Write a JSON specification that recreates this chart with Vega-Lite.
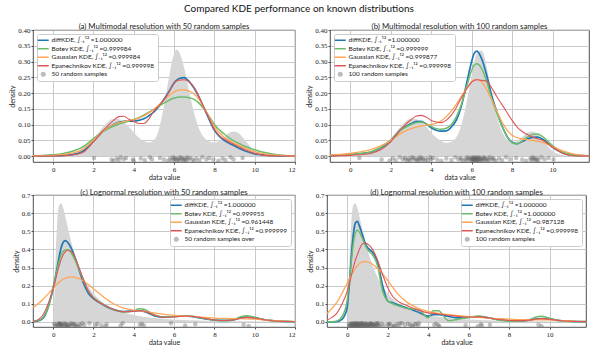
{
"$schema": "https://vega.github.io/schema/vega-lite/v6.json",
"padding": {"left": 8, "top": 3, "right": 0, "bottom": 0},
"title": {"text": "Compared KDE performance on known distributions", "font": "Lato", "fontSize": 10, "fontWeight": "normal", "anchor": "middle", "offset": 9, "color": "#111"},
"config": {
 "view": {"stroke": "#222", "strokeWidth": 0.8},
 "axis": {"grid": true, "gridColor": "#bdbdbd", "gridWidth": 0.8, "domain": false, "tickColor": "#222", "tickSize": 2, "tickWidth": 0.8, "labelFont": "Liberation Serif", "labelFontSize": 7, "labelColor": "#222", "labelPadding": 1, "labelOverlap": false, "titleFont": "Lato", "titleFontSize": 7, "titleFontWeight": "normal", "titleColor": "#222", "titlePadding": 1.5},
 "axisY": {"titlePadding": 2},
 "title": {"font": "Lato", "fontSize": 7.8, "fontWeight": "normal", "color": "#222"},
 "legend": {"labelFont": "Lato", "labelFontSize": 6.5, "labelColor": "#222", "fillColor": "#ffffff", "strokeColor": "#cccccc", "padding": 3, "cornerRadius": 2, "symbolType": "stroke", "symbolSize": 121, "symbolStrokeWidth": 1.5, "rowPadding": 1.5, "labelOffset": 5, "offset": 4}
},
"datasets": {
 "A": [
  {"x":-1,"t":0,"d":0,"b":0.001,"g":0,"e":0},
  {"x":-0.5,"t":0,"d":0,"b":0.002,"g":0.001,"e":0},
  {"x":0,"t":0.001,"d":0.001,"b":0.004,"g":0.002,"e":0},
  {"x":0.5,"t":0.003,"d":0.002,"b":0.008,"g":0.005,"e":0.001},
  {"x":1,"t":0.01,"d":0.005,"b":0.016,"g":0.01,"e":0.004},
  {"x":1.5,"t":0.027,"d":0.016,"b":0.03,"g":0.022,"e":0.012},
  {"x":2,"t":0.055,"d":0.047,"b":0.055,"g":0.05,"e":0.045},
  {"x":2.5,"t":0.094,"d":0.08,"b":0.078,"g":0.08,"e":0.082},
  {"x":3,"t":0.118,"d":0.1,"b":0.095,"g":0.1,"e":0.113},
  {"x":3.25,"t":0.117,"d":0.107,"b":0.101,"g":0.106,"e":0.125},
  {"x":3.5,"t":0.108,"d":0.11,"b":0.106,"g":0.109,"e":0.126},
  {"x":3.75,"t":0.093,"d":0.111,"b":0.111,"g":0.112,"e":0.117},
  {"x":4,"t":0.075,"d":0.111,"b":0.116,"g":0.115,"e":0.11},
  {"x":4.25,"t":0.059,"d":0.113,"b":0.122,"g":0.12,"e":0.103},
  {"x":4.5,"t":0.048,"d":0.118,"b":0.13,"g":0.127,"e":0.103},
  {"x":4.75,"t":0.043,"d":0.128,"b":0.139,"g":0.137,"e":0.118},
  {"x":5,"t":0.05,"d":0.14,"b":0.148,"g":0.148,"e":0.143},
  {"x":5.25,"t":0.085,"d":0.158,"b":0.158,"g":0.162,"e":0.16},
  {"x":5.5,"t":0.16,"d":0.18,"b":0.168,"g":0.177,"e":0.178},
  {"x":5.75,"t":0.25,"d":0.205,"b":0.177,"g":0.192,"e":0.203},
  {"x":6,"t":0.325,"d":0.232,"b":0.184,"g":0.203,"e":0.232},
  {"x":6.12,"t":0.337,"d":0.24,"b":0.186,"g":0.207,"e":0.238},
  {"x":6.25,"t":0.33,"d":0.246,"b":0.187,"g":0.21,"e":0.241},
  {"x":6.5,"t":0.28,"d":0.249,"b":0.187,"g":0.21,"e":0.242},
  {"x":6.75,"t":0.205,"d":0.236,"b":0.185,"g":0.206,"e":0.235},
  {"x":7,"t":0.135,"d":0.215,"b":0.18,"g":0.197,"e":0.217},
  {"x":7.25,"t":0.085,"d":0.185,"b":0.167,"g":0.178,"e":0.186},
  {"x":7.5,"t":0.058,"d":0.15,"b":0.148,"g":0.152,"e":0.152},
  {"x":7.75,"t":0.046,"d":0.115,"b":0.125,"g":0.122,"e":0.118},
  {"x":8,"t":0.043,"d":0.082,"b":0.1,"g":0.093,"e":0.085},
  {"x":8.25,"t":0.048,"d":0.062,"b":0.083,"g":0.074,"e":0.065},
  {"x":8.5,"t":0.06,"d":0.049,"b":0.069,"g":0.059,"e":0.053},
  {"x":8.75,"t":0.074,"d":0.04,"b":0.057,"g":0.048,"e":0.044},
  {"x":9,"t":0.078,"d":0.032,"b":0.047,"g":0.04,"e":0.036},
  {"x":9.25,"t":0.07,"d":0.024,"b":0.039,"g":0.032,"e":0.028},
  {"x":9.5,"t":0.052,"d":0.017,"b":0.031,"g":0.025,"e":0.02},
  {"x":10,"t":0.016,"d":0.007,"b":0.02,"g":0.014,"e":0.008},
  {"x":10.5,"t":0.003,"d":0.003,"b":0.011,"g":0.007,"e":0.002},
  {"x":11,"t":0,"d":0.001,"b":0.005,"g":0.003,"e":0},
  {"x":11.5,"t":0,"d":0,"b":0.002,"g":0.001,"e":0},
  {"x":12,"t":0,"d":0,"b":0.001,"g":0,"e":0}
 ],
 "B": [
  {"x":-1,"t":0,"d":0.001,"b":0.001,"g":0.003,"e":0},
  {"x":-0.5,"t":0,"d":0.003,"b":0.003,"g":0.005,"e":0.001},
  {"x":0,"t":0.001,"d":0.005,"b":0.005,"g":0.008,"e":0.002},
  {"x":0.5,"t":0.003,"d":0.008,"b":0.008,"g":0.013,"e":0.004},
  {"x":1,"t":0.01,"d":0.012,"b":0.013,"g":0.02,"e":0.008},
  {"x":1.5,"t":0.027,"d":0.025,"b":0.027,"g":0.032,"e":0.02},
  {"x":2,"t":0.055,"d":0.049,"b":0.05,"g":0.05,"e":0.045},
  {"x":2.5,"t":0.094,"d":0.084,"b":0.082,"g":0.072,"e":0.085},
  {"x":3,"t":0.118,"d":0.102,"b":0.1,"g":0.087,"e":0.115},
  {"x":3.25,"t":0.117,"d":0.109,"b":0.106,"g":0.092,"e":0.126},
  {"x":3.5,"t":0.108,"d":0.11,"b":0.108,"g":0.096,"e":0.129},
  {"x":3.75,"t":0.093,"d":0.102,"b":0.102,"g":0.098,"e":0.124},
  {"x":4,"t":0.075,"d":0.09,"b":0.094,"g":0.1,"e":0.113},
  {"x":4.25,"t":0.059,"d":0.082,"b":0.087,"g":0.104,"e":0.108},
  {"x":4.5,"t":0.048,"d":0.079,"b":0.085,"g":0.112,"e":0.106},
  {"x":4.75,"t":0.042,"d":0.08,"b":0.088,"g":0.125,"e":0.114},
  {"x":5,"t":0.045,"d":0.092,"b":0.1,"g":0.143,"e":0.13},
  {"x":5.25,"t":0.06,"d":0.115,"b":0.125,"g":0.165,"e":0.155},
  {"x":5.5,"t":0.1,"d":0.16,"b":0.165,"g":0.19,"e":0.185},
  {"x":5.75,"t":0.17,"d":0.23,"b":0.22,"g":0.215,"e":0.212},
  {"x":6,"t":0.255,"d":0.3,"b":0.272,"g":0.235,"e":0.235},
  {"x":6.12,"t":0.295,"d":0.325,"b":0.288,"g":0.241,"e":0.24},
  {"x":6.25,"t":0.325,"d":0.333,"b":0.293,"g":0.243,"e":0.242},
  {"x":6.5,"t":0.335,"d":0.308,"b":0.277,"g":0.235,"e":0.24},
  {"x":6.75,"t":0.28,"d":0.255,"b":0.235,"g":0.21,"e":0.237},
  {"x":7,"t":0.195,"d":0.19,"b":0.18,"g":0.178,"e":0.215},
  {"x":7.25,"t":0.125,"d":0.14,"b":0.135,"g":0.142,"e":0.188},
  {"x":7.5,"t":0.078,"d":0.096,"b":0.095,"g":0.108,"e":0.163},
  {"x":7.75,"t":0.052,"d":0.062,"b":0.062,"g":0.082,"e":0.138},
  {"x":8,"t":0.043,"d":0.044,"b":0.042,"g":0.066,"e":0.113},
  {"x":8.25,"t":0.048,"d":0.039,"b":0.038,"g":0.058,"e":0.092},
  {"x":8.5,"t":0.06,"d":0.046,"b":0.048,"g":0.054,"e":0.078},
  {"x":8.75,"t":0.074,"d":0.054,"b":0.06,"g":0.052,"e":0.068},
  {"x":9,"t":0.078,"d":0.059,"b":0.068,"g":0.05,"e":0.06},
  {"x":9.25,"t":0.07,"d":0.06,"b":0.07,"g":0.047,"e":0.055},
  {"x":9.5,"t":0.052,"d":0.054,"b":0.062,"g":0.043,"e":0.05},
  {"x":10,"t":0.016,"d":0.028,"b":0.033,"g":0.03,"e":0.028},
  {"x":10.5,"t":0.003,"d":0.01,"b":0.012,"g":0.016,"e":0.008},
  {"x":11,"t":0,"d":0.003,"b":0.004,"g":0.007,"e":0.001},
  {"x":11.5,"t":0,"d":0.001,"b":0.001,"g":0.002,"e":0},
  {"x":12,"t":0,"d":0,"b":0,"g":0.001,"e":0}
 ],
 "C": [
  {"x":-1,"t":0,"d":0.001,"b":0.002,"g":0.078,"e":0.003},
  {"x":-0.75,"t":0,"d":0.005,"b":0.007,"g":0.1,"e":0.012},
  {"x":-0.5,"t":0,"d":0.02,"b":0.025,"g":0.125,"e":0.04},
  {"x":-0.25,"t":0,"d":0.08,"b":0.08,"g":0.155,"e":0.1},
  {"x":0,"t":0,"d":0.185,"b":0.19,"g":0.185,"e":0.185},
  {"x":0.05,"t":0.09,"d":0.21,"b":0.215,"g":0.191,"e":0.205},
  {"x":0.1,"t":0.282,"d":0.24,"b":0.24,"g":0.197,"e":0.225},
  {"x":0.2,"t":0.546,"d":0.3,"b":0.29,"g":0.21,"e":0.27},
  {"x":0.3,"t":0.644,"d":0.36,"b":0.335,"g":0.22,"e":0.31},
  {"x":0.4,"t":0.655,"d":0.41,"b":0.37,"g":0.23,"e":0.345},
  {"x":0.5,"t":0.628,"d":0.44,"b":0.39,"g":0.237,"e":0.37},
  {"x":0.6,"t":0.583,"d":0.448,"b":0.398,"g":0.242,"e":0.387},
  {"x":0.75,"t":0.51,"d":0.435,"b":0.398,"g":0.246,"e":0.395},
  {"x":0.9,"t":0.441,"d":0.405,"b":0.38,"g":0.248,"e":0.388},
  {"x":1,"t":0.399,"d":0.38,"b":0.36,"g":0.247,"e":0.375},
  {"x":1.25,"t":0.311,"d":0.3,"b":0.3,"g":0.24,"e":0.31},
  {"x":1.5,"t":0.245,"d":0.215,"b":0.23,"g":0.226,"e":0.235},
  {"x":1.75,"t":0.195,"d":0.158,"b":0.17,"g":0.205,"e":0.17},
  {"x":2,"t":0.157,"d":0.128,"b":0.135,"g":0.182,"e":0.133},
  {"x":2.25,"t":0.128,"d":0.11,"b":0.113,"g":0.16,"e":0.11},
  {"x":2.5,"t":0.105,"d":0.094,"b":0.095,"g":0.138,"e":0.095},
  {"x":3,"t":0.073,"d":0.068,"b":0.068,"g":0.1,"e":0.07},
  {"x":3.5,"t":0.052,"d":0.057,"b":0.055,"g":0.076,"e":0.056},
  {"x":4,"t":0.038,"d":0.06,"b":0.06,"g":0.065,"e":0.058},
  {"x":4.25,"t":0.033,"d":0.062,"b":0.072,"g":0.062,"e":0.062},
  {"x":4.5,"t":0.029,"d":0.058,"b":0.07,"g":0.058,"e":0.06},
  {"x":5,"t":0.022,"d":0.035,"b":0.04,"g":0.05,"e":0.038},
  {"x":5.5,"t":0.017,"d":0.026,"b":0.026,"g":0.042,"e":0.025},
  {"x":6,"t":0.013,"d":0.03,"b":0.03,"g":0.036,"e":0.028},
  {"x":6.5,"t":0.011,"d":0.033,"b":0.034,"g":0.032,"e":0.033},
  {"x":7,"t":0.0086,"d":0.028,"b":0.03,"g":0.029,"e":0.03},
  {"x":7.5,"t":0.007,"d":0.018,"b":0.02,"g":0.025,"e":0.02},
  {"x":8,"t":0.0058,"d":0.01,"b":0.01,"g":0.021,"e":0.011},
  {"x":8.5,"t":0.0048,"d":0.008,"b":0.007,"g":0.019,"e":0.008},
  {"x":9,"t":0.004,"d":0.013,"b":0.015,"g":0.018,"e":0.012},
  {"x":9.3,"t":0.0036,"d":0.022,"b":0.028,"g":0.018,"e":0.02},
  {"x":9.6,"t":0.0032,"d":0.027,"b":0.034,"g":0.017,"e":0.025},
  {"x":10,"t":0.0028,"d":0.022,"b":0.026,"g":0.015,"e":0.022},
  {"x":10.5,"t":0.0024,"d":0.012,"b":0.012,"g":0.011,"e":0.012},
  {"x":11,"t":0.0021,"d":0.006,"b":0.005,"g":0.007,"e":0.005},
  {"x":11.5,"t":0.0018,"d":0.003,"b":0.002,"g":0.004,"e":0.002},
  {"x":12,"t":0.0015,"d":0.001,"b":0.001,"g":0.002,"e":0.001}
 ],
 "D": [
  {"x":-1,"t":0,"d":0,"b":0,"g":0.045,"e":0.01},
  {"x":-0.75,"t":0,"d":0,"b":0.001,"g":0.075,"e":0.025},
  {"x":-0.5,"t":0,"d":0.002,"b":0.005,"g":0.11,"e":0.05},
  {"x":-0.25,"t":0,"d":0.015,"b":0.03,"g":0.16,"e":0.1},
  {"x":0,"t":0,"d":0.08,"b":0.12,"g":0.215,"e":0.17},
  {"x":0.05,"t":0.09,"d":0.14,"b":0.17,"g":0.226,"e":0.19},
  {"x":0.1,"t":0.282,"d":0.2,"b":0.22,"g":0.237,"e":0.21},
  {"x":0.2,"t":0.546,"d":0.36,"b":0.33,"g":0.258,"e":0.255},
  {"x":0.3,"t":0.644,"d":0.48,"b":0.43,"g":0.278,"e":0.3},
  {"x":0.4,"t":0.655,"d":0.545,"b":0.49,"g":0.295,"e":0.34},
  {"x":0.5,"t":0.628,"d":0.555,"b":0.505,"g":0.31,"e":0.37},
  {"x":0.6,"t":0.583,"d":0.53,"b":0.495,"g":0.322,"e":0.4},
  {"x":0.75,"t":0.51,"d":0.48,"b":0.46,"g":0.331,"e":0.43},
  {"x":0.9,"t":0.441,"d":0.43,"b":0.42,"g":0.333,"e":0.435},
  {"x":1,"t":0.399,"d":0.41,"b":0.4,"g":0.331,"e":0.43},
  {"x":1.25,"t":0.311,"d":0.385,"b":0.37,"g":0.318,"e":0.4},
  {"x":1.5,"t":0.245,"d":0.33,"b":0.31,"g":0.295,"e":0.34},
  {"x":1.75,"t":0.195,"d":0.2,"b":0.17,"g":0.265,"e":0.26},
  {"x":2,"t":0.157,"d":0.115,"b":0.115,"g":0.228,"e":0.19},
  {"x":2.25,"t":0.128,"d":0.105,"b":0.1,"g":0.19,"e":0.14},
  {"x":2.5,"t":0.105,"d":0.095,"b":0.09,"g":0.155,"e":0.115},
  {"x":3,"t":0.073,"d":0.075,"b":0.073,"g":0.105,"e":0.088},
  {"x":3.5,"t":0.052,"d":0.055,"b":0.07,"g":0.075,"e":0.065},
  {"x":4,"t":0.038,"d":0.032,"b":0.022,"g":0.058,"e":0.05},
  {"x":4.25,"t":0.033,"d":0.04,"b":0.062,"g":0.052,"e":0.047},
  {"x":4.5,"t":0.029,"d":0.04,"b":0.062,"g":0.047,"e":0.044},
  {"x":5,"t":0.022,"d":0.03,"b":0.007,"g":0.04,"e":0.037},
  {"x":5.5,"t":0.017,"d":0.022,"b":0.015,"g":0.034,"e":0.03},
  {"x":6,"t":0.013,"d":0.025,"b":0.025,"g":0.029,"e":0.027},
  {"x":6.5,"t":0.011,"d":0.03,"b":0.032,"g":0.025,"e":0.028},
  {"x":7,"t":0.0086,"d":0.022,"b":0.022,"g":0.021,"e":0.022},
  {"x":7.5,"t":0.007,"d":0.012,"b":0.01,"g":0.018,"e":0.013},
  {"x":8,"t":0.0058,"d":0.007,"b":0.004,"g":0.015,"e":0.008},
  {"x":8.5,"t":0.0048,"d":0.006,"b":0.004,"g":0.013,"e":0.007},
  {"x":9,"t":0.004,"d":0.01,"b":0.012,"g":0.012,"e":0.01},
  {"x":9.3,"t":0.0036,"d":0.016,"b":0.026,"g":0.012,"e":0.015},
  {"x":9.6,"t":0.0032,"d":0.019,"b":0.031,"g":0.012,"e":0.018},
  {"x":10,"t":0.0028,"d":0.015,"b":0.02,"g":0.011,"e":0.015},
  {"x":10.5,"t":0.0024,"d":0.008,"b":0.007,"g":0.008,"e":0.008},
  {"x":11,"t":0.0021,"d":0.004,"b":0.002,"g":0.005,"e":0.004},
  {"x":11.5,"t":0.0018,"d":0.002,"b":0.001,"g":0.003,"e":0.002},
  {"x":12,"t":0.0015,"d":0.001,"b":0,"g":0.002,"e":0.001}
 ],
 "SA": [
  {"x":2.03,"y":-0.006},{"x":2.9,"y":-0.011},{"x":3.0,"y":-0.015},{"x":3.15,"y":-0.008},{"x":3.25,"y":-0.013},{"x":3.35,"y":-0.004},{"x":3.5,"y":-0.01},
  {"x":3.62,"y":-0.006},{"x":3.95,"y":-0.011},{"x":4.0,"y":-0.015},{"x":4.35,"y":-0.008},{"x":4.55,"y":-0.013},{"x":4.8,"y":-0.004},{"x":4.9,"y":-0.01},
  {"x":5.3,"y":-0.006},{"x":5.5,"y":-0.011},{"x":5.7,"y":-0.015},{"x":5.8,"y":-0.008},{"x":5.9,"y":-0.013},{"x":5.95,"y":-0.004},{"x":6.0,"y":-0.01},
  {"x":6.05,"y":-0.006},{"x":6.1,"y":-0.011},{"x":6.15,"y":-0.015},{"x":6.2,"y":-0.008},{"x":6.25,"y":-0.013},{"x":6.3,"y":-0.004},{"x":6.35,"y":-0.01},
  {"x":6.4,"y":-0.006},{"x":6.45,"y":-0.011},{"x":6.5,"y":-0.015},{"x":6.55,"y":-0.008},{"x":6.6,"y":-0.013},{"x":6.65,"y":-0.004},{"x":6.7,"y":-0.01},
  {"x":6.8,"y":-0.006},{"x":6.9,"y":-0.011},{"x":7.0,"y":-0.015},{"x":7.1,"y":-0.008},{"x":7.25,"y":-0.013},{"x":7.4,"y":-0.004},{"x":7.6,"y":-0.01},
  {"x":7.75,"y":-0.006},{"x":7.95,"y":-0.011},{"x":8.2,"y":-0.015},{"x":8.4,"y":-0.008},{"x":8.55,"y":-0.013},{"x":8.8,"y":-0.004},{"x":8.95,"y":-0.01},
  {"x":9.4,"y":-0.006}
 ],
 "SB": [
  {"x":0.45,"y":-0.006},{"x":1.55,"y":-0.011},{"x":1.95,"y":-0.015},{"x":2.1,"y":-0.008},{"x":2.25,"y":-0.013},{"x":2.45,"y":-0.004},{"x":2.6,"y":-0.01},
  {"x":2.7,"y":-0.006},{"x":2.75,"y":-0.011},{"x":2.85,"y":-0.015},{"x":2.9,"y":-0.008},{"x":2.95,"y":-0.013},{"x":3.05,"y":-0.004},{"x":3.1,"y":-0.01},
  {"x":3.15,"y":-0.006},{"x":3.25,"y":-0.011},{"x":3.3,"y":-0.015},{"x":3.35,"y":-0.008},{"x":3.4,"y":-0.013},{"x":3.45,"y":-0.004},{"x":3.5,"y":-0.01},
  {"x":3.55,"y":-0.006},{"x":3.6,"y":-0.011},{"x":3.7,"y":-0.015},{"x":3.75,"y":-0.008},{"x":3.85,"y":-0.013},{"x":3.95,"y":-0.004},{"x":4.0,"y":-0.01},
  {"x":4.1,"y":-0.006},{"x":4.3,"y":-0.011},{"x":4.5,"y":-0.015},{"x":4.75,"y":-0.008},{"x":5.0,"y":-0.013},{"x":5.2,"y":-0.004},{"x":5.35,"y":-0.01},
  {"x":5.45,"y":-0.006},{"x":5.5,"y":-0.011},{"x":5.6,"y":-0.015},{"x":5.7,"y":-0.008},{"x":5.75,"y":-0.013},{"x":5.8,"y":-0.004},{"x":5.85,"y":-0.01},
  {"x":5.9,"y":-0.006},{"x":5.95,"y":-0.011},{"x":6.0,"y":-0.015},{"x":6.02,"y":-0.008},{"x":6.05,"y":-0.013},{"x":6.05,"y":-0.004},{"x":6.08,"y":-0.01},
  {"x":6.1,"y":-0.006},{"x":6.12,"y":-0.011},{"x":6.15,"y":-0.015},{"x":6.15,"y":-0.008},{"x":6.18,"y":-0.013},{"x":6.2,"y":-0.004},{"x":6.22,"y":-0.01},
  {"x":6.25,"y":-0.006},{"x":6.25,"y":-0.011},{"x":6.28,"y":-0.015},{"x":6.3,"y":-0.008},{"x":6.33,"y":-0.013},{"x":6.35,"y":-0.004},{"x":6.35,"y":-0.01},
  {"x":6.4,"y":-0.006},{"x":6.45,"y":-0.011},{"x":6.45,"y":-0.015},{"x":6.5,"y":-0.008},{"x":6.55,"y":-0.013},{"x":6.6,"y":-0.004},{"x":6.6,"y":-0.01},
  {"x":6.65,"y":-0.006},{"x":6.7,"y":-0.011},{"x":6.75,"y":-0.015},{"x":6.8,"y":-0.008},{"x":6.85,"y":-0.013},{"x":6.9,"y":-0.004},{"x":7.0,"y":-0.01},
  {"x":7.05,"y":-0.006},{"x":7.1,"y":-0.011},{"x":7.2,"y":-0.015},{"x":7.35,"y":-0.008},{"x":7.5,"y":-0.013},{"x":7.7,"y":-0.004},{"x":7.9,"y":-0.01},
  {"x":8.2,"y":-0.006},{"x":8.5,"y":-0.011},{"x":8.7,"y":-0.015},{"x":8.9,"y":-0.008},{"x":8.95,"y":-0.013},{"x":9.0,"y":-0.004},{"x":9.05,"y":-0.01},
  {"x":9.1,"y":-0.006},{"x":9.15,"y":-0.011},{"x":9.2,"y":-0.015},{"x":9.25,"y":-0.008},{"x":9.3,"y":-0.013},{"x":9.45,"y":-0.004},{"x":9.6,"y":-0.01},
  {"x":9.8,"y":-0.006},{"x":10.05,"y":-0.011}
 ],
 "SC": [
  {"x":0.05,"y":-0.01},{"x":0.1,"y":-0.018},{"x":0.15,"y":-0.024},{"x":0.2,"y":-0.013},{"x":0.25,"y":-0.02},{"x":0.28,"y":-0.007},{"x":0.32,"y":-0.016},
  {"x":0.35,"y":-0.01},{"x":0.4,"y":-0.018},{"x":0.42,"y":-0.024},{"x":0.45,"y":-0.013},{"x":0.5,"y":-0.02},{"x":0.55,"y":-0.007},{"x":0.6,"y":-0.016},
  {"x":0.65,"y":-0.01},{"x":0.7,"y":-0.018},{"x":0.75,"y":-0.024},{"x":0.8,"y":-0.013},{"x":0.85,"y":-0.02},{"x":0.9,"y":-0.007},{"x":1.0,"y":-0.016},
  {"x":1.05,"y":-0.01},{"x":1.1,"y":-0.018},{"x":1.2,"y":-0.024},{"x":1.3,"y":-0.013},{"x":1.35,"y":-0.02},{"x":1.45,"y":-0.007},{"x":1.55,"y":-0.016},
  {"x":0.38,"y":-0.01},{"x":0.62,"y":-0.018},{"x":0.72,"y":-0.024},{"x":0.95,"y":-0.013},{"x":1.15,"y":-0.02},{"x":1.8,"y":-0.007},{"x":2.1,"y":-0.016},
  {"x":2.2,"y":-0.01},{"x":2.4,"y":-0.018},{"x":2.6,"y":-0.024},{"x":2.65,"y":-0.013},{"x":3.35,"y":-0.02},{"x":3.45,"y":-0.007},{"x":4.3,"y":-0.016},
  {"x":4.4,"y":-0.01},{"x":4.5,"y":-0.018},{"x":5.85,"y":-0.007},{"x":6.55,"y":-0.02},{"x":7.05,"y":-0.013},{"x":9.45,"y":-0.016},{"x":9.7,"y":-0.022},
  {"x":0.3,"y":-0.012}
 ],
 "SD": [
  {"x":0.08,"y":-0.01},{"x":0.12,"y":-0.018},{"x":0.15,"y":-0.024},{"x":0.18,"y":-0.013},{"x":0.2,"y":-0.02},{"x":0.22,"y":-0.007},{"x":0.25,"y":-0.016},
  {"x":0.27,"y":-0.01},{"x":0.3,"y":-0.018},{"x":0.32,"y":-0.024},{"x":0.34,"y":-0.013},{"x":0.36,"y":-0.02},{"x":0.38,"y":-0.007},{"x":0.4,"y":-0.016},
  {"x":0.42,"y":-0.01},{"x":0.44,"y":-0.018},{"x":0.46,"y":-0.024},{"x":0.48,"y":-0.013},{"x":0.5,"y":-0.02},{"x":0.52,"y":-0.007},{"x":0.55,"y":-0.016},
  {"x":0.57,"y":-0.01},{"x":0.6,"y":-0.018},{"x":0.62,"y":-0.024},{"x":0.65,"y":-0.013},{"x":0.68,"y":-0.02},{"x":0.7,"y":-0.007},{"x":0.72,"y":-0.016},
  {"x":0.75,"y":-0.01},{"x":0.78,"y":-0.018},{"x":0.8,"y":-0.024},{"x":0.83,"y":-0.013},{"x":0.86,"y":-0.02},{"x":0.9,"y":-0.007},{"x":0.93,"y":-0.016},
  {"x":0.96,"y":-0.01},{"x":1.0,"y":-0.018},{"x":1.03,"y":-0.024},{"x":1.07,"y":-0.013},{"x":1.1,"y":-0.02},{"x":1.14,"y":-0.007},{"x":1.18,"y":-0.016},
  {"x":1.22,"y":-0.01},{"x":1.26,"y":-0.018},{"x":1.3,"y":-0.024},{"x":1.34,"y":-0.013},{"x":1.38,"y":-0.02},{"x":1.42,"y":-0.007},{"x":1.46,"y":-0.016},
  {"x":1.5,"y":-0.01},{"x":1.55,"y":-0.018},{"x":1.6,"y":-0.024},{"x":0.28,"y":-0.013},{"x":0.35,"y":-0.02},{"x":0.45,"y":-0.007},{"x":0.58,"y":-0.016},
  {"x":0.66,"y":-0.01},{"x":0.88,"y":-0.018},{"x":1.12,"y":-0.024},{"x":1.24,"y":-0.013},{"x":1.36,"y":-0.02},{"x":1.52,"y":-0.007},{"x":2.0,"y":-0.016},
  {"x":2.1,"y":-0.01},{"x":2.2,"y":-0.018},{"x":2.3,"y":-0.024},{"x":2.45,"y":-0.013},{"x":2.55,"y":-0.02},{"x":2.7,"y":-0.007},{"x":2.85,"y":-0.016},
  {"x":3.0,"y":-0.01},{"x":3.2,"y":-0.018},{"x":3.25,"y":-0.024},{"x":3.35,"y":-0.013},{"x":3.5,"y":-0.02},{"x":3.55,"y":-0.007},{"x":4.3,"y":-0.016},
  {"x":4.4,"y":-0.01},{"x":4.5,"y":-0.018},{"x":4.55,"y":-0.024},{"x":2.05,"y":-0.013},{"x":2.35,"y":-0.02},{"x":2.6,"y":-0.007},{"x":3.1,"y":-0.016},
  {"x":3.4,"y":-0.01},{"x":5.85,"y":-0.018},{"x":6.45,"y":-0.024},{"x":6.6,"y":-0.013},{"x":6.65,"y":-0.02},{"x":7.05,"y":-0.016},{"x":9.45,"y":-0.016},
  {"x":9.6,"y":-0.022},{"x":1.7,"y":-0.01},{"x":1.8,"y":-0.018},{"x":0.1,"y":-0.024},{"x":0.24,"y":-0.013},{"x":0.53,"y":-0.02},{"x":0.74,"y":-0.007},
  {"x":0.98,"y":-0.016},{"x":1.16,"y":-0.01}
 ]
},
"vconcat": [
 {"hconcat": [
  {"width": 262, "height": 132, "title": {"text": "(a) Multimodal resolution with 50 random samples", "offset": -5},
   "encoding": {"x": {"field": "x", "type": "quantitative", "title": "data value", "scale": {"domain": [-1, 12], "nice": false, "zero": false}, "axis": {"values": [0, 2, 4, 6, 8, 10, 12]}}},
   "layer": [
    {"data": {"name": "A"}, "mark": {"type": "area", "color": "#d6d6d6", "interpolate": "monotone", "clip": true},
     "encoding": {"y": {"field": "t", "type": "quantitative", "title": "density", "scale": {"domain": [-0.019, 0.4], "nice": false, "zero": false}, "axis": {"values": [0, 0.05, 0.1, 0.15, 0.2, 0.25, 0.3, 0.35, 0.4], "format": ".2f"}}, "y2": {"datum": 0}}},
    {"data": {"name": "A"}, "transform": [{"fold": ["d", "b", "g", "e"]}], "mark": {"type": "line", "interpolate": "monotone", "clip": true},
     "encoding": {"y": {"field": "value", "type": "quantitative", "title": "density", "scale": {"domain": [-0.019, 0.4], "nice": false, "zero": false}, "axis": {"values": [0, 0.05, 0.1, 0.15, 0.2, 0.25, 0.3, 0.35, 0.4], "format": ".2f"}},
      "color": {"field": "key", "type": "nominal", "scale": {"domain": ["d", "b", "g", "e", "p"], "range": ["#1f77b4", "#6bbc6b", "#ffa556", "#e05555", "#bbbbbb"]},
       "legend": {"title": null, "orient": "top-left", "labelExpr": "datum.value=='d'?'diffKDE, ∫₋₁¹² =1.000000':datum.value=='b'?'Botev KDE, ∫₋₁¹² =0.999984':datum.value=='g'?'Gaussian KDE, ∫₋₁¹² =0.999984':datum.value=='e'?'Epanechnikov KDE, ∫₋₁¹² =0.999998':'50 random samples'",
        "encode": {"symbols": {"update": {"shape": {"signal": "datum.value=='p'?'circle':'stroke'"}, "size": {"signal": "datum.value=='p'?25:121"}, "fill": {"signal": "datum.value=='p'?'#bbbbbb':'transparent'"}, "strokeWidth": {"signal": "datum.value=='p'?0:1.5"}, "opacity": {"value": 1}}}}}},
      "strokeWidth": {"field": "key", "type": "nominal", "scale": {"domain": ["d", "b", "g", "e"], "range": [1.7, 1.1, 1.3, 1.1]}, "legend": null}}},
    {"data": {"name": "SA"}, "mark": {"type": "circle", "size": 20, "opacity": 0.4, "color": "#666666", "clip": true},
     "encoding": {"y": {"field": "y", "type": "quantitative", "title": "density", "scale": {"domain": [-0.019, 0.4], "nice": false, "zero": false}, "axis": {"values": [0, 0.05, 0.1, 0.15, 0.2, 0.25, 0.3, 0.35, 0.4], "format": ".2f"}}}}
   ]},
  {"width": 259, "height": 132, "title": {"text": "(b) Multimodal resolution with 100 random samples", "offset": -5},
   "encoding": {"x": {"field": "x", "type": "quantitative", "title": "data value", "scale": {"domain": [-1, 11.8], "nice": false, "zero": false}, "axis": {"values": [0, 2, 4, 6, 8, 10]}}},
   "layer": [
    {"data": {"name": "B"}, "mark": {"type": "area", "color": "#d6d6d6", "interpolate": "monotone", "clip": true},
     "encoding": {"y": {"field": "t", "type": "quantitative", "title": "density", "scale": {"domain": [-0.019, 0.4], "nice": false, "zero": false}, "axis": {"values": [0, 0.05, 0.1, 0.15, 0.2, 0.25, 0.3, 0.35, 0.4], "format": ".2f"}}, "y2": {"datum": 0}}},
    {"data": {"name": "B"}, "transform": [{"fold": ["d", "b", "g", "e"]}], "mark": {"type": "line", "interpolate": "monotone", "clip": true},
     "encoding": {"y": {"field": "value", "type": "quantitative", "title": "density", "scale": {"domain": [-0.019, 0.4], "nice": false, "zero": false}, "axis": {"values": [0, 0.05, 0.1, 0.15, 0.2, 0.25, 0.3, 0.35, 0.4], "format": ".2f"}},
      "color": {"field": "key", "type": "nominal", "scale": {"domain": ["d", "b", "g", "e", "p"], "range": ["#1f77b4", "#6bbc6b", "#ffa556", "#e05555", "#bbbbbb"]},
       "legend": {"title": null, "orient": "top-left", "labelExpr": "datum.value=='d'?'diffKDE, ∫₋₁¹² =1.000000':datum.value=='b'?'Botev KDE, ∫₋₁¹² =0.999999':datum.value=='g'?'Gaussian KDE, ∫₋₁¹² =0.999877':datum.value=='e'?'Epanechnikov KDE, ∫₋₁¹² =0.999998':'100 random samples'",
        "encode": {"symbols": {"update": {"shape": {"signal": "datum.value=='p'?'circle':'stroke'"}, "size": {"signal": "datum.value=='p'?25:121"}, "fill": {"signal": "datum.value=='p'?'#bbbbbb':'transparent'"}, "strokeWidth": {"signal": "datum.value=='p'?0:1.5"}, "opacity": {"value": 1}}}}}},
      "strokeWidth": {"field": "key", "type": "nominal", "scale": {"domain": ["d", "b", "g", "e"], "range": [1.7, 1.1, 1.3, 1.1]}, "legend": null}}},
    {"data": {"name": "SB"}, "mark": {"type": "circle", "size": 20, "opacity": 0.4, "color": "#666666", "clip": true},
     "encoding": {"y": {"field": "y", "type": "quantitative", "title": "density", "scale": {"domain": [-0.019, 0.4], "nice": false, "zero": false}, "axis": {"values": [0, 0.05, 0.1, 0.15, 0.2, 0.25, 0.3, 0.35, 0.4], "format": ".2f"}}}}
   ]}
 ], "spacing": 9, "resolve": {"scale": {"color": "independent", "strokeWidth": "independent"}, "legend": {"color": "independent"}}},
 {"hconcat": [
  {"width": 262, "height": 132, "title": {"text": "(c) Lognormal resolution with 50 random samples", "offset": -6},
   "encoding": {"x": {"field": "x", "type": "quantitative", "title": "data value", "scale": {"domain": [-1, 12], "nice": false, "zero": false}, "axis": {"values": [0, 2, 4, 6, 8, 10, 12]}}},
   "layer": [
    {"data": {"name": "C"}, "mark": {"type": "area", "color": "#d6d6d6", "interpolate": "monotone", "clip": true},
     "encoding": {"y": {"field": "t", "type": "quantitative", "title": "density", "scale": {"domain": [-0.028, 0.7], "nice": false, "zero": false}, "axis": {"values": [0, 0.1, 0.2, 0.3, 0.4, 0.5, 0.6, 0.7], "format": ".1f"}}, "y2": {"datum": 0}}},
    {"data": {"name": "C"}, "transform": [{"fold": ["d", "b", "g", "e"]}], "mark": {"type": "line", "interpolate": "monotone", "clip": true},
     "encoding": {"y": {"field": "value", "type": "quantitative", "title": "density", "scale": {"domain": [-0.028, 0.7], "nice": false, "zero": false}, "axis": {"values": [0, 0.1, 0.2, 0.3, 0.4, 0.5, 0.6, 0.7], "format": ".1f"}},
      "color": {"field": "key", "type": "nominal", "scale": {"domain": ["d", "b", "g", "e", "p"], "range": ["#1f77b4", "#6bbc6b", "#ffa556", "#e05555", "#bbbbbb"]},
       "legend": {"title": null, "orient": "top-right", "labelExpr": "datum.value=='d'?'diffKDE, ∫₋₁¹² =1.000000':datum.value=='b'?'Botev KDE, ∫₋₁¹² =0.999955':datum.value=='g'?'Gaussian KDE, ∫₋₁¹² =0.961448':datum.value=='e'?'Epanechnikov KDE, ∫₋₁¹² =0.999999':'50 random samples over'",
        "encode": {"symbols": {"update": {"shape": {"signal": "datum.value=='p'?'circle':'stroke'"}, "size": {"signal": "datum.value=='p'?25:121"}, "fill": {"signal": "datum.value=='p'?'#bbbbbb':'transparent'"}, "strokeWidth": {"signal": "datum.value=='p'?0:1.5"}, "opacity": {"value": 1}}}}}},
      "strokeWidth": {"field": "key", "type": "nominal", "scale": {"domain": ["d", "b", "g", "e"], "range": [1.7, 1.1, 1.6, 1.1]}, "legend": null}}},
    {"data": {"name": "SC"}, "mark": {"type": "circle", "size": 20, "opacity": 0.4, "color": "#666666", "clip": true},
     "encoding": {"y": {"field": "y", "type": "quantitative", "title": "density", "scale": {"domain": [-0.028, 0.7], "nice": false, "zero": false}, "axis": {"values": [0, 0.1, 0.2, 0.3, 0.4, 0.5, 0.6, 0.7], "format": ".1f"}}}}
   ]},
  {"width": 259, "height": 132, "title": {"text": "(d) Lognormal resolution with 100 random samples", "offset": -6},
   "encoding": {"x": {"field": "x", "type": "quantitative", "title": "data value", "scale": {"domain": [-1, 11.8], "nice": false, "zero": false}, "axis": {"values": [0, 2, 4, 6, 8, 10]}}},
   "layer": [
    {"data": {"name": "D"}, "mark": {"type": "area", "color": "#d6d6d6", "interpolate": "monotone", "clip": true},
     "encoding": {"y": {"field": "t", "type": "quantitative", "title": "density", "scale": {"domain": [-0.028, 0.7], "nice": false, "zero": false}, "axis": {"values": [0, 0.1, 0.2, 0.3, 0.4, 0.5, 0.6, 0.7], "format": ".1f"}}, "y2": {"datum": 0}}},
    {"data": {"name": "D"}, "transform": [{"fold": ["d", "b", "g", "e"]}], "mark": {"type": "line", "interpolate": "monotone", "clip": true},
     "encoding": {"y": {"field": "value", "type": "quantitative", "title": "density", "scale": {"domain": [-0.028, 0.7], "nice": false, "zero": false}, "axis": {"values": [0, 0.1, 0.2, 0.3, 0.4, 0.5, 0.6, 0.7], "format": ".1f"}},
      "color": {"field": "key", "type": "nominal", "scale": {"domain": ["d", "b", "g", "e", "p"], "range": ["#1f77b4", "#6bbc6b", "#ffa556", "#e05555", "#bbbbbb"]},
       "legend": {"title": null, "orient": "top-right", "labelExpr": "datum.value=='d'?'diffKDE, ∫₋₁¹² =1.000000':datum.value=='b'?'Botev KDE, ∫₋₁¹² =1.000000':datum.value=='g'?'Gaussian KDE, ∫₋₁¹² =0.987128':datum.value=='e'?'Epanechnikov KDE, ∫₋₁¹² =0.999998':'100 random samples'",
        "encode": {"symbols": {"update": {"shape": {"signal": "datum.value=='p'?'circle':'stroke'"}, "size": {"signal": "datum.value=='p'?25:121"}, "fill": {"signal": "datum.value=='p'?'#bbbbbb':'transparent'"}, "strokeWidth": {"signal": "datum.value=='p'?0:1.5"}, "opacity": {"value": 1}}}}}},
      "strokeWidth": {"field": "key", "type": "nominal", "scale": {"domain": ["d", "b", "g", "e"], "range": [1.7, 1.1, 1.6, 1.1]}, "legend": null}}},
    {"data": {"name": "SD"}, "mark": {"type": "circle", "size": 20, "opacity": 0.4, "color": "#666666", "clip": true},
     "encoding": {"y": {"field": "y", "type": "quantitative", "title": "density", "scale": {"domain": [-0.028, 0.7], "nice": false, "zero": false}, "axis": {"values": [0, 0.1, 0.2, 0.3, 0.4, 0.5, 0.6, 0.7], "format": ".1f"}}}}
   ]}
 ], "spacing": 9, "resolve": {"scale": {"color": "independent", "strokeWidth": "independent"}, "legend": {"color": "independent"}}}
],
"spacing": 7,
"resolve": {"scale": {"color": "independent", "strokeWidth": "independent"}, "legend": {"color": "independent"}}
}
